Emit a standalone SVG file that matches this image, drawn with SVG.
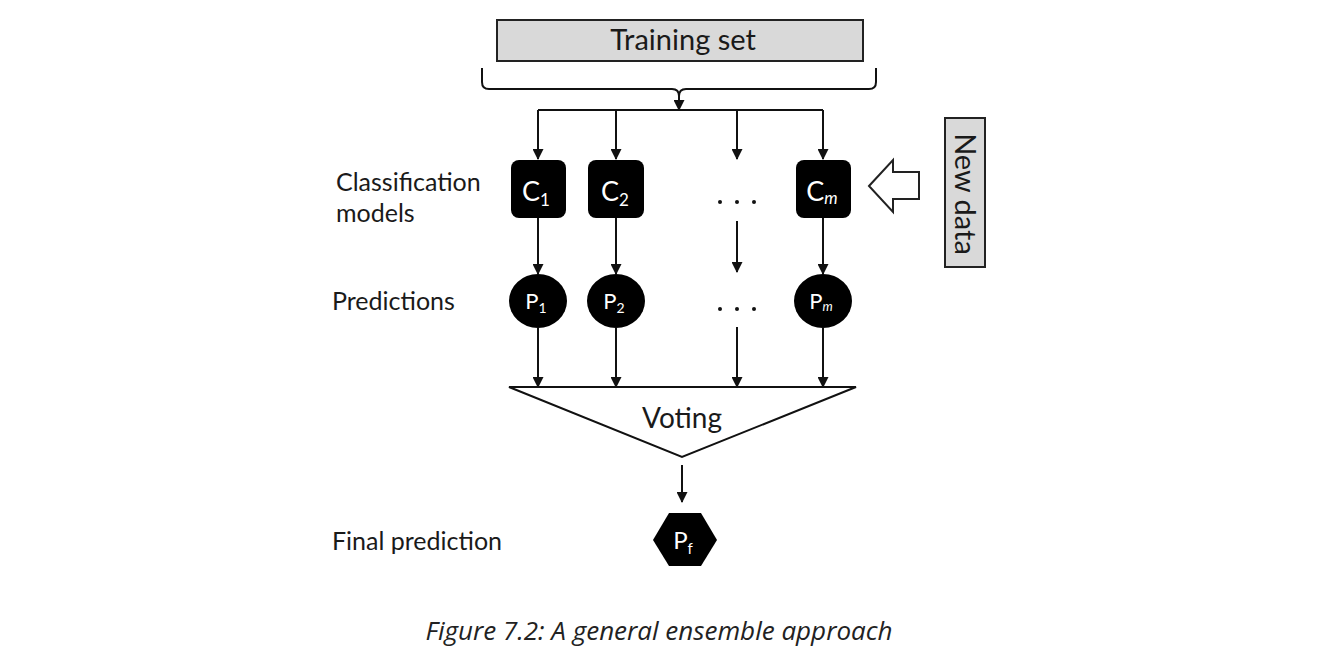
<svg xmlns="http://www.w3.org/2000/svg" width="1324" height="662" viewBox="0 0 1324 662">
<style>
.lbl{font-family:Lato,"Open Sans",sans-serif;font-size:25px;fill:#1a1a1a}
.node{font-family:Lato,"Open Sans",sans-serif;fill:#fff}
.ln{stroke:#111;stroke-width:2;fill:none}
.box{fill:#d9d9d9;stroke:#222;stroke-width:2}
</style>
<defs>
<marker id="ah2" viewBox="0 0 10 10" refX="9" refY="5" markerWidth="12" markerHeight="11" markerUnits="userSpaceOnUse" orient="auto">
<path d="M0,0 L10,5 L0,10 z" fill="#111"/>
</marker>
</defs>
<rect width="1324" height="662" fill="#fff"/>

<g id="training-set">
<rect class="box" x="497" y="20" width="366" height="41"/>
<text x="683" y="50" font-family="Lato,'Open Sans',sans-serif" font-size="29" text-anchor="middle" fill="#1a1a1a">Training set</text>
</g>

<g id="connectors">
<path class="ln" d="M482,68 L482,82 Q482,89 489,89 L672,89 Q679,89 679,96 Q679,89 686,89 L869,89 Q876,89 876,82 L876,68" stroke-width="1.5"/>
<line class="ln" x1="679" y1="96" x2="679" y2="110" marker-end="url(#ah2)"/>
<line class="ln" x1="538" y1="110" x2="823" y2="110"/>
<line class="ln" x1="538" y1="110" x2="538" y2="159" marker-end="url(#ah2)"/>
<line class="ln" x1="616" y1="110" x2="616" y2="159" marker-end="url(#ah2)"/>
<line class="ln" x1="737" y1="110" x2="737" y2="159" marker-end="url(#ah2)"/>
<line class="ln" x1="823" y1="110" x2="823" y2="159" marker-end="url(#ah2)"/>
<line class="ln" x1="538" y1="218" x2="538" y2="274" marker-end="url(#ah2)"/>
<line class="ln" x1="616" y1="218" x2="616" y2="274" marker-end="url(#ah2)"/>
<line class="ln" x1="737" y1="221" x2="737" y2="272" marker-end="url(#ah2)"/>
<line class="ln" x1="823" y1="218" x2="823" y2="274" marker-end="url(#ah2)"/>
<line class="ln" x1="538" y1="328" x2="538" y2="387" marker-end="url(#ah2)"/>
<line class="ln" x1="616" y1="328" x2="616" y2="387" marker-end="url(#ah2)"/>
<line class="ln" x1="737" y1="327" x2="737" y2="387" marker-end="url(#ah2)"/>
<line class="ln" x1="823" y1="328" x2="823" y2="387" marker-end="url(#ah2)"/>
<line class="ln" x1="682" y1="465" x2="682" y2="502" marker-end="url(#ah2)"/>
</g>

<g id="labels">
<text class="lbl" x="336" y="191">Classification</text>
<text class="lbl" x="336" y="222">models</text>
<text class="lbl" x="332" y="310">Predictions</text>
<text class="lbl" x="332" y="550">Final prediction</text>
</g>

<g id="c1">
<rect x="511" y="160" width="55" height="58" rx="8" fill="#000"/>
<text class="node" x="536" y="201" font-size="27" text-anchor="middle">C<tspan font-size="17" dy="5">1</tspan></text>
</g>
<g id="c2">
<rect x="588" y="160" width="56" height="58" rx="8" fill="#000"/>
<text class="node" x="615" y="201" font-size="27" text-anchor="middle">C<tspan font-size="17" dy="5">2</tspan></text>
</g>
<g id="c-dots">
<circle cx="720" cy="202" r="2" fill="#111"/>
<circle cx="737" cy="202" r="2" fill="#111"/>
<circle cx="754" cy="202" r="2" fill="#111"/>
</g>
<g id="cm">
<rect x="796" y="160" width="55" height="58" rx="8" fill="#000"/>
<text class="node" x="822" y="201" font-size="27" text-anchor="middle">C<tspan font-size="17" dy="3" font-style="italic">m</tspan></text>
</g>

<g id="p1">
<ellipse cx="538" cy="301" rx="29" ry="27" fill="#000"/>
<text class="node" x="536" y="309" font-size="22" text-anchor="middle">P<tspan font-size="14" dy="4">1</tspan></text>
</g>
<g id="p2">
<ellipse cx="616" cy="301" rx="29" ry="27" fill="#000"/>
<text class="node" x="614" y="309" font-size="22" text-anchor="middle">P<tspan font-size="14" dy="4">2</tspan></text>
</g>
<g id="p-dots">
<circle cx="720" cy="309" r="2" fill="#111"/>
<circle cx="737" cy="309" r="2" fill="#111"/>
<circle cx="754" cy="309" r="2" fill="#111"/>
</g>
<g id="pm">
<ellipse cx="823" cy="301" rx="29" ry="27" fill="#000"/>
<text class="node" x="821" y="309" font-size="22" text-anchor="middle">P<tspan font-size="13" dy="2" font-style="italic">m</tspan></text>
</g>

<g id="voting">
<polygon points="509,387 856,387 682,457" fill="#fff" stroke="#111" stroke-width="2"/>
<text x="682" y="428" font-family="Lato,'Open Sans',sans-serif" font-size="28" fill="#1a1a1a" text-anchor="middle">Voting</text>
</g>

<g id="pf">
<polygon points="669,513 701,513 717,540 701,566 669,566 653,540" fill="#000"/>
<text class="node" x="683" y="549" font-size="24" text-anchor="middle">P<tspan font-size="15" dy="5">f</tspan></text>
</g>

<g id="new-data">
<polygon points="869,186 893,160 893,172 919,172 919,199 893,199 893,212" fill="#fff" stroke="#222" stroke-width="2"/>
<rect class="box" x="945" y="118" width="40" height="149"/>
<text x="0" y="0" transform="translate(955,194) rotate(90)" font-family="Lato,'Open Sans',sans-serif" font-size="29" fill="#1a1a1a" text-anchor="middle">New data</text>
</g>

<g id="caption">
<text x="659" y="640" font-family="'Open Sans','Noto Sans',sans-serif" font-style="italic" font-size="26" fill="#222" text-anchor="middle">Figure 7.2: A general ensemble approach</text>
</g>
</svg>
